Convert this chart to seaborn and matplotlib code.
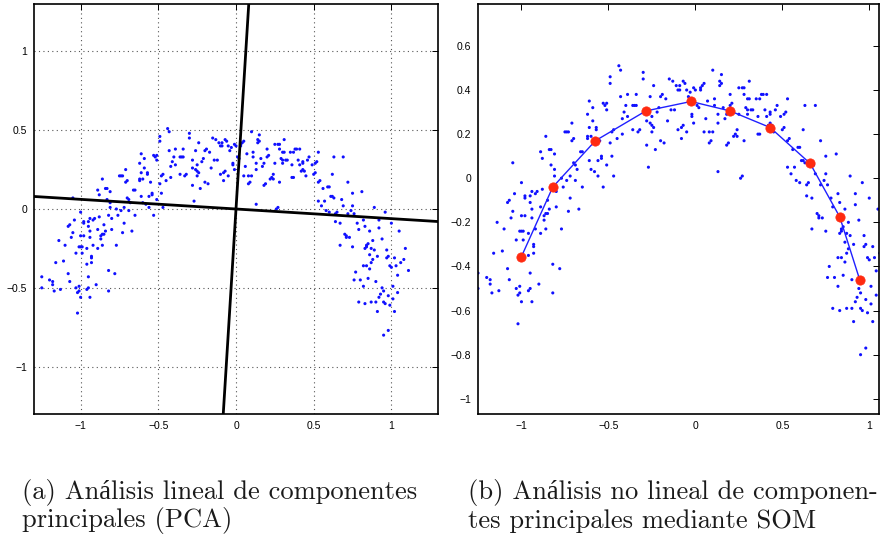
import matplotlib
matplotlib.use("Agg")
import matplotlib.pyplot as plt
import seaborn as sns
import numpy as np
import pandas as pd

sns.set_style("white")
plt.rcParams['font.family'] = ['Liberation Sans', 'DejaVu Sans']

# ---- data ----
pts_x = [-1.25, -1.25, -1.20, -1.18, -1.18, -1.17, -1.16, -1.13, -1.14, -1.10,
         -1.11, -1.08, -1.07, -1.08, -1.07, -1.06, -1.05, -1.05, -1.04, -1.03,
         -1.03, -1.02, -1.01, -1.02, -1.01, -1.01, -1.00, -1.00, -1.00, -1.00,
         -0.99, -0.99, -0.98, -0.98, -0.98, -0.96, -0.96, -0.96, -0.95, -0.95,
         -0.95, -0.95, -0.94, -0.94, -0.94, -0.94, -0.93, -0.93, -0.93, -0.92,
         -0.92, -0.91, -0.90, -0.89, -0.89, -0.89, -0.88, -0.88, -0.87, -0.87,
         -0.86, -0.86, -0.86, -0.85, -0.85, -0.84, -0.84, -0.83, -0.83, -0.82,
         -0.82, -0.82, -0.81, -0.81, -0.81, -0.80, -0.80, -0.78, -0.77, -0.77,
         -0.76, -0.75, -0.74, -0.74, -0.73, -0.73, -0.72, -0.72, -0.71, -0.71,
         -0.70, -0.70, -0.69, -0.69, -0.68, -0.67, -0.66, -0.65, -0.65, -0.62,
         -0.62, -0.62, -0.61, -0.61, -0.61, -0.60, -0.60, -0.59, -0.59, -0.58,
         -0.57, -0.57, -0.56, -0.56, -0.55, -0.54, -0.54, -0.53, -0.53, -0.52,
         -0.51, -0.51, -0.51, -0.49, -0.49, -0.49, -0.48, -0.48, -0.47, -0.47,
         -0.45, -0.44, -0.43, -0.43, -0.42, -0.42, -0.41, -0.40, -0.39, -0.39,
         -0.36, -0.36, -0.35, -0.34, -0.34, -0.33, -0.32, -0.30, -0.30, -0.28,
         -0.28, -0.28, -0.27, -0.26, -0.26, -0.25, -0.25, -0.25, -0.24, -0.24,
         -0.23, -0.22, -0.21, -0.20, -0.20, -0.19, -0.18, -0.17, -0.16, -0.15,
         -0.14, -0.13, -0.12, -0.11, -0.10, -0.10, -0.09, -0.09, -0.08, -0.08,
         -0.07, -0.07, -0.06, -0.05, -0.05, -0.04, -0.03, -0.02, -0.02, -0.01,
         -0.01, 0.00, 0.01, 0.02, 0.03, 0.03, 0.04, 0.05, 0.05, 0.06,
         0.07, 0.08, 0.08, 0.09, 0.10, 0.10, 0.11, 0.11, 0.13, 0.13,
         0.13, 0.14, 0.14, 0.15, 0.15, 0.16, 0.17, 0.18, 0.18, 0.19,
         0.20, 0.20, 0.21, 0.22, 0.23, 0.24, 0.24, 0.25, 0.25, 0.26,
         0.27, 0.27, 0.28, 0.28, 0.28, 0.29, 0.30, 0.30, 0.30, 0.31,
         0.31, 0.32, 0.33, 0.35, 0.36, 0.36, 0.37, 0.37, 0.38, 0.39,
         0.40, 0.41, 0.41, 0.42, 0.43, 0.43, 0.43, 0.44, 0.45, 0.46,
         0.47, 0.49, 0.50, 0.51, 0.51, 0.52, 0.53, 0.53, 0.53, 0.54,
         0.55, 0.56, 0.57, 0.58, 0.59, 0.60, 0.60, 0.61, 0.62, 0.62,
         0.63, 0.63, 0.64, 0.64, 0.65, 0.67, 0.67, 0.68, 0.69, 0.69,
         0.70, 0.71, 0.71, 0.72, 0.72, 0.73, 0.74, 0.75, 0.75, 0.75,
         0.76, 0.76, 0.77, 0.78, 0.79, 0.79, 0.80, 0.81, 0.82, 0.82,
         0.82, 0.83, 0.83, 0.83, 0.84, 0.84, 0.84, 0.85, 0.85, 0.86,
         0.86, 0.86, 0.87, 0.87, 0.87, 0.88, 0.88, 0.89, 0.89, 0.90,
         0.90, 0.91, 0.91, 0.92, 0.92, 0.92, 0.93, 0.94, 0.94, 0.95,
         0.95, 0.96, 0.96, 0.97, 0.97, 0.98, 0.98, 0.99, 0.99, 1.00,
         1.00, 1.01, 1.01, 1.02, 1.02, 1.03, 1.04, 1.04, 1.05, 1.06,
         0.95, 0.98, 1.11, 1.09, 1.08]
pts_y = [-0.43, -0.50, -0.45, -0.46, -0.48, -0.52, -0.34, -0.51, -0.20, -0.23,
         -0.33, -0.11, -0.10, -0.41, -0.46, -0.18, 0.07, -0.15, -0.07, -0.28,
         -0.50, -0.53, -0.52, -0.66, -0.49, -0.24, -0.24, -0.17, -0.02, -0.56,
         -0.28, -0.24, -0.09, -0.08, -0.17, -0.35, -0.25, -0.51, -0.43, -0.08,
         -0.50, -0.11, -0.06, -0.56, -0.14, -0.18, -0.31, -0.34, -0.30, -0.07,
         -0.23, -0.06, -0.48, -0.25, -0.13, 0.12, 0.09, -0.05, -0.19, -0.17,
         0.19, -0.16, -0.23, -0.16, -0.10, -0.14, 0.13, 0.06, 0.13, -0.39,
         -0.04, -0.52, 0.01, 0.11, 0.04, -0.13, -0.06, -0.41, -0.00, -0.23,
         -0.04, 0.21, 0.21, -0.01, -0.15, 0.21, -0.09, 0.01, 0.17, 0.25,
         0.18, 0.07, 0.06, -0.01, 0.04, -0.14, 0.12, -0.04, 0.12, 0.29,
         0.19, 0.18, 0.35, 0.08, 0.23, 0.19, 0.04, 0.32, 0.26, 0.03,
         0.23, 0.22, 0.01, 0.08, 0.17, 0.09, 0.10, -0.04, 0.34, 0.33,
         0.34, 0.31, 0.06, 0.16, 0.46, 0.43, 0.10, 0.21, 0.22, 0.01,
         0.18, 0.51, 0.49, 0.37, 0.20, 0.27, 0.30, 0.33, 0.28, 0.38,
         0.33, 0.22, 0.33, 0.33, 0.38, 0.21, 0.22, 0.48, 0.45, 0.26,
         0.15, 0.31, 0.05, 0.37, 0.25, 0.24, 0.21, 0.28, 0.42, 0.23,
         0.13, 0.30, 0.32, 0.37, 0.17, 0.38, 0.16, 0.36, 0.26, 0.45,
         0.31, 0.44, 0.31, 0.42, 0.40, 0.22, 0.42, 0.40, 0.18, 0.23,
         0.24, 0.44, 0.43, 0.40, 0.21, 0.37, 0.39, 0.28, 0.29, 0.25,
         0.41, 0.40, 0.33, 0.32, 0.41, 0.40, 0.42, 0.43, 0.21, 0.27,
         0.35, 0.21, 0.16, 0.17, 0.49, 0.21, 0.33, 0.36, 0.29, 0.25,
         0.03, 0.42, 0.44, 0.43, 0.47, 0.32, 0.27, 0.29, 0.15, 0.16,
         0.38, 0.33, 0.34, 0.19, 0.20, 0.22, 0.19, 0.41, 0.29, -0.00,
         0.01, 0.41, 0.41, 0.38, 0.17, 0.32, 0.31, 0.36, 0.29, 0.44,
         0.36, 0.31, 0.31, 0.36, 0.28, 0.20, 0.20, 0.36, 0.38, 0.38,
         0.31, 0.28, 0.38, 0.24, 0.29, 0.25, 0.30, 0.24, 0.21, 0.31,
         0.33, 0.28, 0.22, 0.23, 0.29, 0.30, 0.36, 0.17, 0.05, 0.18,
         0.02, 0.13, 0.05, -0.01, 0.14, 0.14, -0.02, 0.08, 0.08, 0.22,
         0.07, 0.33, -0.03, -0.08, -0.02, -0.23, -0.09, 0.06, 0.33, 0.02,
         -0.16, -0.17, -0.18, -0.03, 0.17, -0.18, -0.01, -0.24, 0.02, 0.10,
         -0.03, -0.45, -0.40, -0.09, -0.13, -0.59, -0.45, 0.11, -0.36, -0.49,
         -0.07, -0.60, -0.11, -0.25, -0.23, -0.24, -0.36, -0.22, -0.44, -0.14,
         -0.38, -0.29, -0.25, -0.34, -0.59, -0.32, -0.20, -0.26, 0.01, -0.59,
         -0.46, -0.65, -0.30, -0.12, -0.07, -0.56, -0.54, -0.50, -0.19, -0.59,
         -0.52, -0.02, -0.60, -0.26, -0.31, -0.55, -0.30, -0.36, -0.61, -0.09,
         -0.37, -0.49, -0.57, -0.65, -0.31, -0.36, -0.53, -0.42, -0.14, -0.34,
         -0.80, -0.77, -0.39, -0.25, -0.32]

som_x = [-1.00, -0.82, -0.575, -0.285, -0.025, 0.20, 0.43, 0.66, 0.83, 0.945]
som_y = [-0.355, -0.04, 0.17, 0.305, 0.348, 0.305, 0.23, 0.067, -0.175, -0.46]

pca_center = (0.0, 0.0)
pc1 = (0.998, -0.061)
pc2 = (0.063, 0.998)

left_ticks = [-1, -0.5, 0, 0.5, 1]
right_xticks = [-1, -0.5, 0, 0.5, 1]
right_yticks = [-1, -0.8, -0.6, -0.4, -0.2, 0, 0.2, 0.4, 0.6]

caption_a = ["(a) Análisis lineal de componentes", "principales (PCA)"]
caption_b = ["(b) Análisis no lineal de componen-", "tes principales mediante SOM"]

pts = pd.DataFrame({"x": pts_x, "y": pts_y})
som = pd.DataFrame({"x": som_x, "y": som_y})


def fmt(v):
    return ("%g" % v).replace("-", "\u2212")


def style_axes(ax, xt, yt):
    ax.set_xticks(xt)
    ax.set_yticks(yt)
    ax.set_xticklabels([fmt(v) for v in xt])
    ax.set_yticklabels([fmt(v) for v in yt])
    ax.tick_params(direction="in", length=4, width=0.7, labelsize=7.5,
                   top=True, right=True, pad=5, colors="black")
    for s in ax.spines.values():
        s.set_linewidth(1.2)
        s.set_color("black")
        s.set_visible(True)
    ax.set_xlabel("")
    ax.set_ylabel("")


fig = plt.figure(figsize=(8.8, 5.35), dpi=100)
W, H = 880.0, 535.0

# left panel: PCA
ax1 = fig.add_axes([34 / W, (H - 414) / H, 404 / W, 410 / H])
sns.scatterplot(data=pts, x="x", y="y", ax=ax1, s=5, color="#1010ff",
                edgecolor="none", linewidth=0, marker="o", legend=False)
ax1.axline(pca_center, (pca_center[0] + pc1[0], pca_center[1] + pc1[1]),
           color="black", lw=2.0)
ax1.axline(pca_center, (pca_center[0] + pc2[0], pca_center[1] + pc2[1]),
           color="black", lw=2.0)
ax1.set_xlim(-1.3, 1.3)
ax1.set_ylim(-1.3, 1.3)
style_axes(ax1, left_ticks, left_ticks)
ax1.grid(True, linestyle=(0, (1, 3)), color="#555555", linewidth=0.8)
ax1.set_axisbelow(True)

# right panel: SOM
ax2 = fig.add_axes([478 / W, (H - 414) / H, 401 / W, 410 / H])
sns.scatterplot(data=pts, x="x", y="y", ax=ax2, s=5, color="#1010ff",
                edgecolor="none", linewidth=0, marker="o", legend=False)
sns.lineplot(data=som, x="x", y="y", ax=ax2, sort=False, estimator=None,
             color="#2020ff", lw=1.0, legend=False)
sns.scatterplot(data=som, x="x", y="y", ax=ax2, s=45, color="#ff2a10",
                edgecolor="#ff2a10", linewidth=0.5, zorder=5, legend=False)
ax2.set_xlim(-1.25, 1.056)
ax2.set_ylim(-1.069, 0.79)
style_axes(ax2, right_xticks, right_yticks)
ax2.grid(False)

# captions
cap_font = dict(family=["cmr10", "Liberation Serif"], size=19.1, color="#1a1a1a")
fig.text(22 / W, (H - 492) / H, caption_a[0], ha="left", va="center", **cap_font)
fig.text(22 / W, (H - 521) / H, caption_a[1], ha="left", va="center", **cap_font)
fig.text(468 / W, (H - 492) / H, caption_b[0], ha="left", va="center", **cap_font)
fig.text(468 / W, (H - 521) / H, caption_b[1], ha="left", va="center", **cap_font)

fig.savefig("out.png", dpi=100)
